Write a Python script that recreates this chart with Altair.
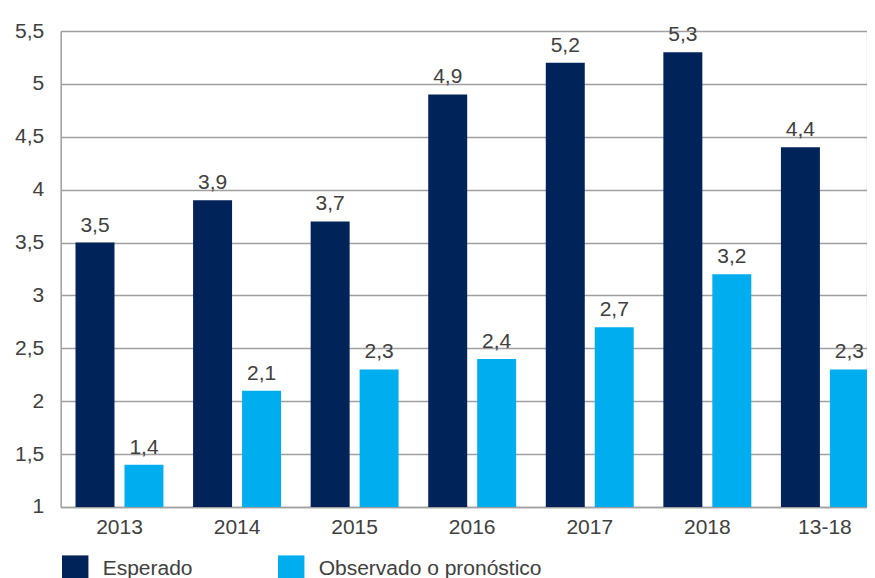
import altair as alt
import pandas as pd

categories = ["2013", "2014", "2015", "2016", "2017", "2018", "13-18"]
esperado = [3.5, 3.9, 3.7, 4.9, 5.2, 5.3, 4.4]
observado = [1.4, 2.1, 2.3, 2.4, 2.7, 3.2, 2.3]
series_names = ["Esperado", "Observado o pronóstico"]
y_ticks = [1, 1.5, 2, 2.5, 3, 3.5, 4, 4.5, 5, 5.5]

rows = []
for c, e, o in zip(categories, esperado, observado):
    rows.append({"cat": c, "serie": series_names[0], "v": e, "lbl": f"{e:.1f}".replace(".", ",")})
    rows.append({"cat": c, "serie": series_names[1], "v": o, "lbl": f"{o:.1f}".replace(".", ",")})
df = pd.DataFrame(rows)

FONT = "Liberation Sans"
FS = 21
TXT = "#404040"
GRID = "#A0A0A0"

x = alt.X("cat:N", sort=categories, title=None,
          scale=alt.Scale(range=[0, 823], paddingInner=0.252, paddingOuter=0.126),
          axis=alt.Axis(labelAngle=0, labelFont=FONT, labelFontSize=FS, labelColor=TXT,
                        labelPadding=10, ticks=False, domainColor=GRID, domainWidth=1.5,
                        grid=False))
xo = alt.XOffset("serie:N", sort=series_names,
                 scale=alt.Scale(paddingInner=0.204, paddingOuter=0))
y = alt.Y("v:Q", title=None,
          scale=alt.Scale(domain=[1, 5.5], nice=False, zero=False),
          axis=alt.Axis(values=y_ticks, labelExpr="replace(toString(datum.value), '.', ',')",
                        labelFont=FONT, labelFontSize=FS, labelColor=TXT, labelPadding=17,
                        ticks=False, domainColor=GRID, domainWidth=1.5,
                        gridColor=GRID, gridWidth=1.3, gridOpacity=1))

color = alt.Color("serie:N", sort=series_names,
                  scale=alt.Scale(domain=series_names, range=["#00245A", "#00AEEF"]),
                  legend=alt.Legend(title=None, orient="none", legendX=1, legendY=524,
                                    direction="horizontal", symbolType="square",
                                    symbolSize=700, symbolStrokeWidth=0, symbolOpacity=1,
                                    labelFont=FONT, labelFontSize=FS, labelColor=TXT,
                                    labelOffset=14, columnPadding=85, padding=0,
                                    labelLimit=400))

bars = alt.Chart(df).mark_bar().encode(x=x, xOffset=xo, y=y, y2=alt.datum(1), color=color)

labels = alt.Chart(df).mark_text(font=FONT, fontSize=FS, color=TXT, baseline="alphabetic", dy=-11).encode(
    x=alt.X("cat:N", sort=categories), xOffset=alt.XOffset("serie:N", sort=series_names),
    y="v:Q", text="lbl:N")

chart = alt.layer(bars, labels).properties(
    width=806, height=476,
    autosize=alt.AutoSizeParams(type="none"),
    padding={"left": 52.7, "top": 23, "right": 0, "bottom": 71},
).configure_view(stroke=None).configure(background="white")

chart.save("out.html", embed_options={"renderer": "svg", "actions": False})
